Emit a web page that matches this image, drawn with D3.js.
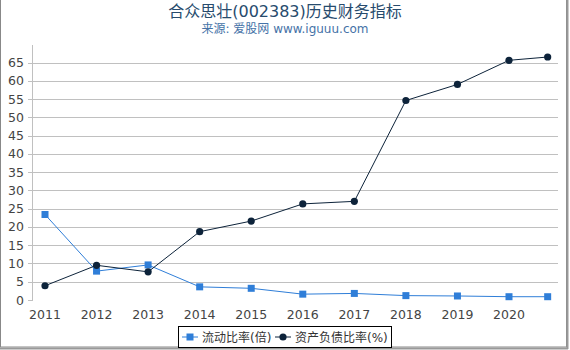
<!DOCTYPE html>
<html>
<head>
<meta charset="utf-8">
<script src="https://cdn.jsdelivr.net/npm/d3@7"></script>
<style>
  body { margin: 0; background: #fff; }
  text { font-family: "DejaVu Sans", "Noto Sans CJK SC", sans-serif; }
</style>
</head>
<body>
<div id="chart"></div>
<script>
const years = [2011, 2012, 2013, 2014, 2015, 2016, 2017, 2018, 2019, 2020, 2020.75]
const tickYears = [2011, 2012, 2013, 2014, 2015, 2016, 2017, 2018, 2019, 2020]
const currentRatio = [23.4, 7.9, 9.6, 3.6, 3.2, 1.6, 1.8, 1.2, 1.1, 0.9, 0.9]
const debtRatio = [3.9, 9.5, 7.7, 18.7, 21.6, 26.3, 27.0, 54.6, 59.0, 65.6, 66.5]
const yTicks = [0, 5, 10, 15, 20, 25, 30, 35, 40, 45, 50, 55, 60, 65]
const seriesNames = ["流动比率(倍)", "资产负债比率(%)"]

const width = 570
const height = 350
const blue = "#2f7ed8"
const navy = "#0d233a"

const svg = d3.select("#chart")
  .append("svg")
  .attr("width", width)
  .attr("height", height)

// outer frame
svg.append("rect")
  .attr("x", 0.5).attr("y", -1)
  .attr("width", 566).attr("height", 348)
  .attr("fill", "none")
  .attr("stroke", "#888")
svg.append("line")
  .attr("x1", 567.5).attr("x2", 567.5).attr("y1", 0).attr("y2", 349)
  .attr("stroke", "#999").attr("stroke-width", 2)
svg.append("line")
  .attr("x1", 0).attr("x2", 568).attr("y1", 348.5).attr("y2", 348.5)
  .attr("stroke", "#999").attr("stroke-width", 2)

svg.append("text")
  .attr("x", 285).attr("y", 17)
  .attr("text-anchor", "middle")
  .attr("font-size", 16)
  .attr("fill", "#274b6d")
  .text("合众思壮(002383)历史财务指标")

svg.append("text")
  .attr("x", 285).attr("y", 33)
  .attr("text-anchor", "middle")
  .attr("font-size", 12)
  .attr("fill", "#4572a7")
  .text("来源: 爱股网 www.iguuu.com")

const x = d3.scaleLinear()
  .domain([2011, 2020])
  .range([45, 509])

const y = d3.scaleLinear()
  .domain([0, 65])
  .range([300, 62.5])

const plotLeft = 32
const plotRight = 558

// grid lines
svg.append("g")
  .selectAll("line")
  .data(yTicks.filter(d => d > 0))
  .enter()
  .append("line")
  .attr("x1", plotLeft - 4)
  .attr("x2", plotRight)
  .attr("y1", d => Math.round(y(d)) + 0.5)
  .attr("y2", d => Math.round(y(d)) + 0.5)
  .attr("stroke", "#c0c0c0")

// y axis line
svg.append("line")
  .attr("x1", plotLeft + 0.5).attr("x2", plotLeft + 0.5)
  .attr("y1", 45).attr("y2", 301)
  .attr("stroke", "#c0c0c0")
svg.append("line")
  .attr("x1", plotLeft - 4).attr("x2", plotLeft)
  .attr("y1", 300.5).attr("y2", 300.5)
  .attr("stroke", "#c0c0c0")

svg.append("g")
  .selectAll("text")
  .data(yTicks)
  .enter()
  .append("text")
  .attr("x", 24)
  .attr("y", d => y(d) + 4.5)
  .attr("text-anchor", "end")
  .attr("font-size", 12.5)
  .attr("fill", "#444")
  .text(d => d)

svg.append("g")
  .selectAll("text")
  .data(tickYears)
  .enter()
  .append("text")
  .attr("x", d => x(d))
  .attr("y", 319)
  .attr("text-anchor", "middle")
  .attr("font-size", 12.5)
  .attr("fill", "#444")
  .text(d => d)

const line = d3.line()
  .x((d, i) => x(years[i]))
  .y(d => y(d))

svg.append("path")
  .datum(currentRatio)
  .attr("d", line)
  .attr("fill", "none")
  .attr("stroke", blue)
  .attr("stroke-width", 1)

svg.append("path")
  .datum(debtRatio)
  .attr("d", line)
  .attr("fill", "none")
  .attr("stroke", navy)
  .attr("stroke-width", 1)

svg.append("g")
  .selectAll("rect")
  .data(currentRatio)
  .enter()
  .append("rect")
  .attr("x", (d, i) => x(years[i]) - 3.5)
  .attr("y", d => y(d) - 3.5)
  .attr("width", 7)
  .attr("height", 7)
  .attr("fill", blue)

svg.append("g")
  .selectAll("circle")
  .data(debtRatio)
  .enter()
  .append("circle")
  .attr("cx", (d, i) => x(years[i]))
  .attr("cy", d => y(d))
  .attr("r", 3.6)
  .attr("fill", navy)

// legend
const legend = svg.append("g")
svg.append("rect")
  .attr("x", 178.5).attr("y", 326.5)
  .attr("width", 213).attr("height", 21)
  .attr("fill", "#fff")
  .attr("stroke", "#000")

const items = [
  { name: seriesNames[0], color: blue, x: 182, shape: "square" },
  { name: seriesNames[1], color: navy, x: 275, shape: "circle" },
]
items.forEach(item => {
  const g = svg.append("g").attr("transform", `translate(${item.x},337)`)
  g.append("line")
    .attr("x1", 0).attr("x2", 16)
    .attr("stroke", item.color)
    .attr("stroke-width", 1)
  if (item.shape === "square")
    g.append("rect").attr("x", 4.5).attr("y", -3.5).attr("width", 7).attr("height", 7).attr("fill", item.color)
  else
    g.append("circle").attr("cx", 8).attr("r", 3.6).attr("fill", item.color)
  g.append("text")
    .attr("x", 20).attr("y", 4.5)
    .attr("font-size", 12)
    .attr("fill", "#333")
    .text(item.name)
})
</script>
</body>
</html>
